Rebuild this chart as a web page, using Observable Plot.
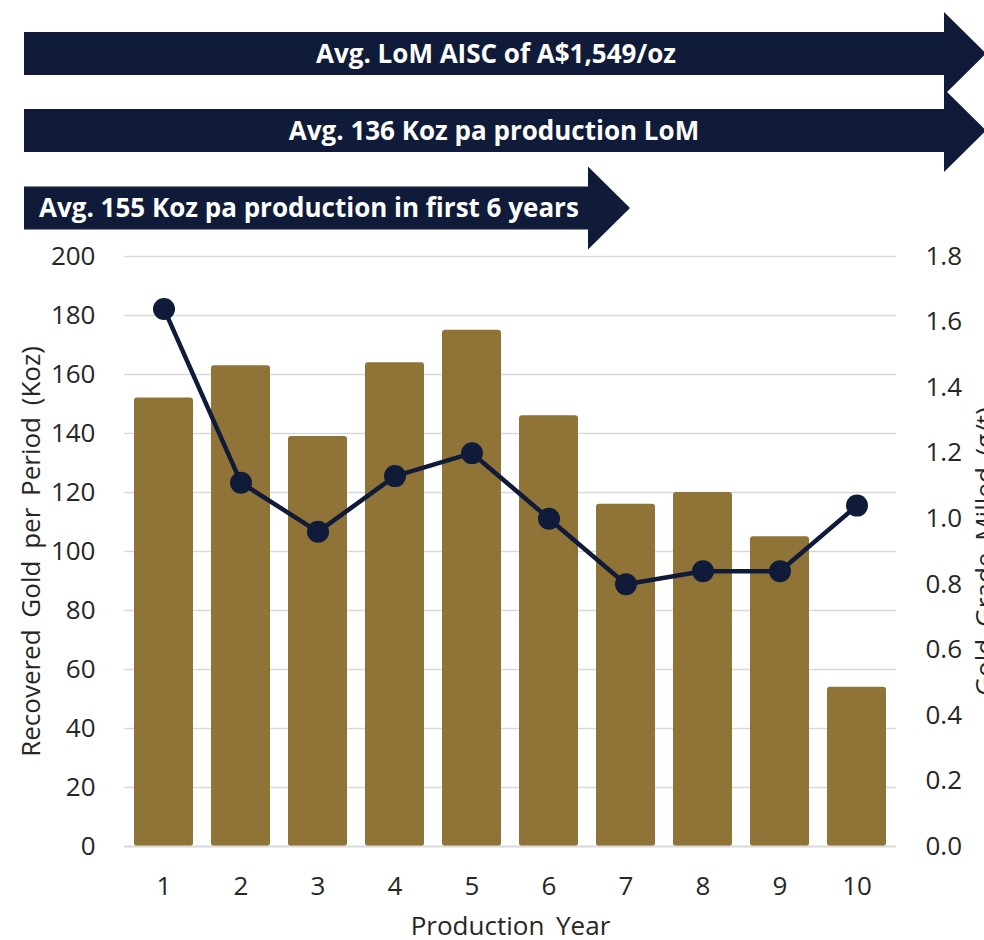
<!DOCTYPE html>
<html>
<head>
<meta charset="utf-8">
<script src="https://cdn.jsdelivr.net/npm/d3@7"></script>
<script src="https://cdn.jsdelivr.net/npm/@observablehq/plot@0.6"></script>
<style>
  html, body { margin: 0; padding: 0; background: #fff; overflow: hidden; }
  #chart svg { overflow: hidden; display: block; }
  .wide-words { word-spacing: 5px; }
</style>
</head>
<body>
<div id="chart"></div>
<script>
// ---- data ----
const years = ["1", "2", "3", "4", "5", "6", "7", "8", "9", "10"];
const recoveredGold = [152, 163, 139, 164, 175, 146, 116, 120, 105, 54];   // Koz
const gradeMilled = [1.64, 1.11, 0.96, 1.13, 1.20, 1.00, 0.80, 0.84, 0.84, 1.04]; // g/t
const leftTicks = [0, 20, 40, 60, 80, 100, 120, 140, 160, 180, 200];
const rightTicks = [0, 0.2, 0.4, 0.6, 0.8, 1.0, 1.2, 1.4, 1.6, 1.8];
const arrowLabels = [
  "Avg. LoM AISC of A$1,549/oz",
  "Avg. 136 Koz pa production LoM",
  "Avg. 155 Koz pa production in first 6 years"
];
const leftTitle = "Recovered Gold per Period (Koz)";
const rightTitle = "Gold Grade Milled (g/t)";
const xTitle = "Production Year";

const leftMax = 200, rightMax = 1.8;
const k = leftMax / rightMax;
const data = years.map((y, i) => ({year: y, gold: recoveredGold[i], grade: gradeMilled[i]}));

const gold = "#907337";
const navy = "#101b3a";
const grid = "#d9d9d9";
const textColor = "#262626";
const fs = 26;

// arrows banner (drawn in top margin)
function arrows(index, scales, values, dimensions) {
  const g = d3.create("svg:g");
  const specs = [
    {label: arrowLabels[0], cy: 53.5, x0: 24, bodyEnd: 944, tip: 986, anchor: "middle", tx: 496},
    {label: arrowLabels[1], cy: 130.5, x0: 24, bodyEnd: 944, tip: 986, anchor: "middle", tx: 494},
    {label: arrowLabels[2], cy: 208, x0: 24, bodyEnd: 588, tip: 630, anchor: "start", tx: 39}
  ];
  const bh = 21.5, hh = 41.5;
  for (const s of specs) {
    const pts = [
      [s.x0, s.cy - bh], [s.bodyEnd, s.cy - bh], [s.bodyEnd, s.cy - hh], [s.tip, s.cy],
      [s.bodyEnd, s.cy + hh], [s.bodyEnd, s.cy + bh], [s.x0, s.cy + bh]
    ];
    g.append("polygon").attr("points", pts.map(p => p.join(",")).join(" ")).attr("fill", navy);
    g.append("text")
      .attr("x", s.tx).attr("y", s.cy).attr("dy", "0.36em")
      .attr("text-anchor", s.anchor)
      .attr("fill", "#fff")
      .attr("font-family", "'Open Sans', sans-serif")
      .attr("font-weight", 700)
      .attr("font-size", 26)
      .text(s.label);
  }
  return g.node();
}

const chart = Plot.plot({
  width: 984,
  height: 940,
  marginTop: 256,
  marginBottom: 94,
  marginLeft: 124,
  marginRight: 88,
  style: {fontFamily: "'Open Sans', sans-serif", fontSize: fs + "px", color: textColor, background: "#fff"},
  x: {type: "band", domain: years, paddingInner: 0.235, paddingOuter: 0.12},
  y: {domain: [0, leftMax]},
  marks: [
    Plot.ruleY(leftTicks.slice(1), {stroke: grid, strokeWidth: 1.6}),
    Plot.barY(data, {x: "year", y: "gold", fill: gold, rx: 3}),
    Plot.ruleY([0], {stroke: grid, strokeWidth: 2}),
    Plot.line(data, {x: "year", y: d => d.grade * k, stroke: navy, strokeWidth: 4.5}),
    Plot.dot(data, {x: "year", y: d => d.grade * k, r: 11, fill: navy}),
    Plot.axisY(leftTicks, {anchor: "left", tickSize: 0, tickPadding: 29, label: null, fontSize: fs}),
    Plot.axisY(rightTicks.map(v => v * k), {
      anchor: "right", tickSize: 0, tickPadding: 29, label: null, fontSize: fs,
      tickFormat: v => d3.format(".1f")(v / k)
    }),
    Plot.axisX({tickSize: 0, tickPadding: 30, label: null, fontSize: fs}),
    Plot.text([leftTitle], {frameAnchor: "left", textAnchor: "middle", dx: -93, dy: 0, rotate: -90, fontSize: fs, fill: textColor, className: "wide-words"}),
    Plot.text([rightTitle], {frameAnchor: "right", textAnchor: "middle", dx: 89, rotate: -90, fontSize: fs, fill: textColor, className: "wide-words"}),
    Plot.text([xTitle], {frameAnchor: "bottom", dy: 88, fontSize: fs, fill: textColor, className: "wide-words"}),
    arrows
  ]
});
document.getElementById("chart").appendChild(chart);
</script>
</body>
</html>
